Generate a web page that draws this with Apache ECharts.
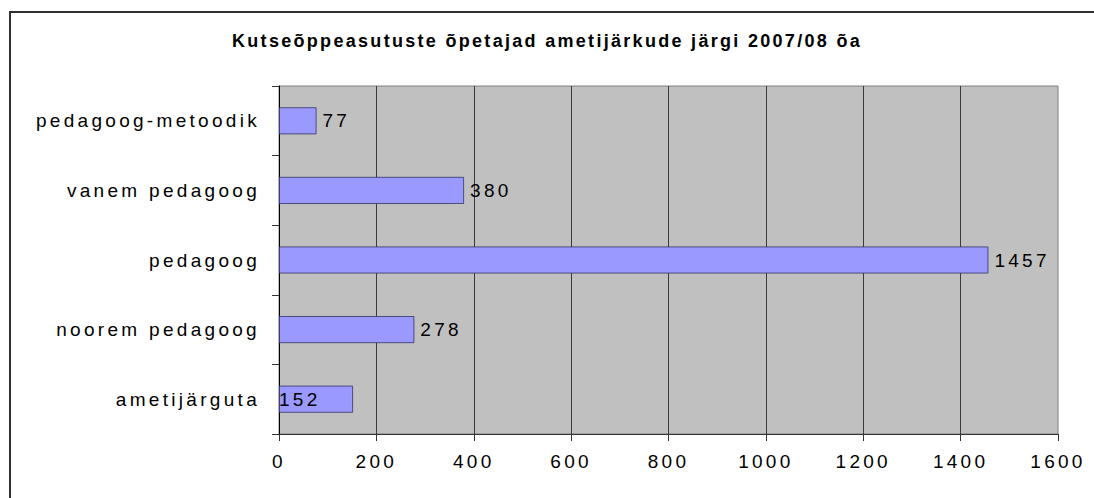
<!DOCTYPE html>
<html>
<head>
<meta charset="utf-8">
<script src="https://cdn.jsdelivr.net/npm/echarts@6/dist/echarts.min.js"></script>
<style>
  html, body { margin: 0; padding: 0; background: #ffffff; }
  #chart { width: 1094px; height: 498px; }
  /* Excel-like wide letter spacing on every text */
  #chart text { letter-spacing: 3.3px; }
  /* the bold title is a bit tighter */
  #chart text[style*="bold"] { letter-spacing: 2.3px; }
</style>
</head>
<body>
<div id="chart"></div>
<script>
// chart data, top to bottom
const titleText = 'Kutseõppeasutuste õpetajad ametijärkude järgi 2007/08 õa';
const categories = ['pedagoog-metoodik', 'vanem pedagoog', 'pedagoog', 'noorem pedagoog', 'ametijärguta'];
const teachers = [77, 380, 1457, 278, 152];
const xTicks = [0, 200, 400, 600, 800, 1000, 1200, 1400, 1600];

const FONT = '"Liberation Sans", Arial, sans-serif';

const chart = echarts.init(document.getElementById('chart'), null, { renderer: 'svg' });

chart.setOption({
  animation: false,
  backgroundColor: '#ffffff',
  textStyle: { fontFamily: FONT },
  title: {
    text: titleText,
    left: 'center',
    top: 27,
    textStyle: { fontSize: 18, fontWeight: 'bold', color: '#000', fontFamily: FONT }
  },
  // outer chart frame, only left and top edges are inside the picture
  graphic: [
    {
      type: 'rect',
      shape: { x: 10, y: 12, width: 1200, height: 600 },
      style: { fill: 'none', stroke: '#303030', lineWidth: 2 },
      silent: true,
      z: 100
    }
  ],
  grid: {
    left: 279,
    right: 36,
    top: 86,
    bottom: 64,
    show: true,
    backgroundColor: '#c0c0c0',
    borderColor: '#808080',
    borderWidth: 1
  },
  xAxis: {
    type: 'value',
    min: xTicks[0],
    max: xTicks[xTicks.length - 1],
    interval: xTicks[1] - xTicks[0],
    axisLine: { show: true, lineStyle: { color: '#333', width: 1 } },
    axisTick: { show: true, length: 7, lineStyle: { color: '#333' } },
    axisLabel: {
      fontSize: 19,
      color: '#000',
      margin: 18,
      fontFamily: FONT,
      formatter: (v) => String(v)
    },
    splitLine: {
      show: true,
      showMinLine: false,
      showMaxLine: false,
      lineStyle: { color: '#3a3a3a', width: 1 }
    }
  },
  yAxis: {
    type: 'category',
    data: categories,
    inverse: true,
    axisLine: { show: true, onZero: false, lineStyle: { color: '#000', width: 1 } },
    axisTick: { show: true, length: 7, lineStyle: { color: '#333' } },
    axisLabel: { fontSize: 19, color: '#000', margin: 19, fontFamily: FONT },
    splitLine: { show: false }
  },
  series: [
    {
      type: 'bar',
      barWidth: 27,
      data: teachers.map((v, i) => ({
        value: v,
        // Excel put the smallest-row label inside the bar
        label: categories[i] === 'ametijärguta' ? { position: 'insideLeft', distance: 0 } : {}
      })),
      itemStyle: {
        color: '#9999ff',
        borderColor: '#333366',
        borderWidth: 0.8
      },
      label: {
        show: true,
        position: 'right',
        distance: 6,
        fontSize: 19,
        color: '#000',
        fontFamily: FONT,
        formatter: (p) => String(p.value)
      }
    }
  ]
});
</script>
</body>
</html>
